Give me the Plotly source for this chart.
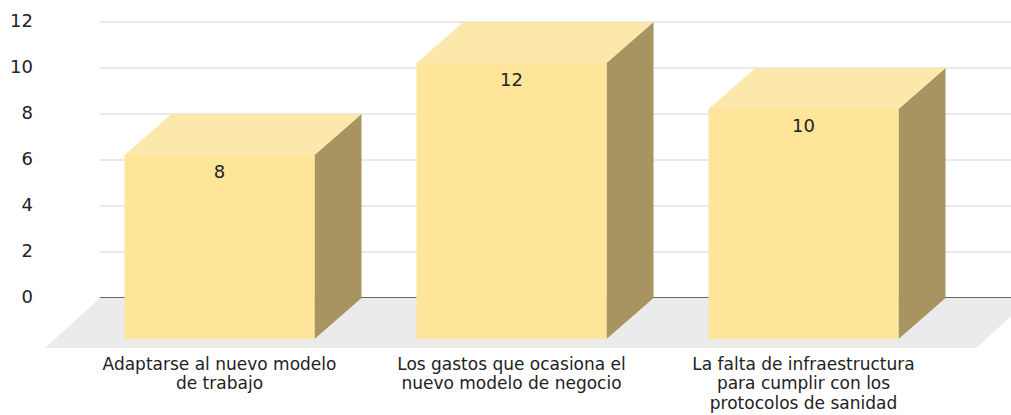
import plotly.graph_objects as go

# ---- data ----
categories = [
    "Adaptarse al nuevo modelo\nde trabajo",
    "Los gastos que ocasiona el\nnuevo modelo de negocio",
    "La falta de infraestructura\npara cumplir con los\nprotocolos de sanidad",
]
values = [8, 12, 10]
y_ticks = [0, 2, 4, 6, 8, 10, 12]

# ---- geometry of the pseudo-3D scene (axis units) ----
W, H = 1011, 415
PX_PER_CAT = 292.0          # horizontal distance between category centres
PX_PER_UNIT = 23.0          # vertical pixels per value unit
X0_PX, Y0_PX = 266.5, 298.0  # pixel position of category 0 / value 0 on the back wall


def xu(px):
    return (px - X0_PX) / PX_PER_CAT


def yu(py):
    return (Y0_PX - py) / PX_PER_UNIT


HALF_W = 95 / PX_PER_CAT     # half bar width
DX = 47 / PX_PER_CAT         # depth shift of the bar front (to the left)
DY = 41 / PX_PER_UNIT        # depth shift of the bar front (downwards)
FLOOR_DX = 55 / PX_PER_CAT
FLOOR_DY = 50 / PX_PER_UNIT
WALL_LEFT = xu(100)
RIGHT = xu(W + 20)

FRONT = "#FFE599"
TOP = "#FDE8AB"
SIDE = "#A79461"
FLOOR = "#EBEBEB"
GRID = "#D4D4D4"
TEXT = "#222222"
FONT = "DejaVu Sans"

fig = go.Figure()


def poly(xs, ys, color):
    fig.add_trace(go.Scatter(
        x=xs + [xs[0]], y=ys + [ys[0]], mode="lines", fill="toself",
        fillcolor=color, line=dict(width=0), hoverinfo="skip", showlegend=False,
    ))


# back-wall gridlines
for t in y_ticks:
    fig.add_trace(go.Scatter(
        x=[WALL_LEFT, RIGHT], y=[t, t], mode="lines",
        line=dict(color="#333333" if t == 0 else GRID, width=1.3 if t == 0 else 1),
        hoverinfo="skip", showlegend=False,
    ))

# floor
poly([WALL_LEFT, RIGHT, RIGHT - FLOOR_DX, WALL_LEFT - FLOOR_DX],
     [0, 0, -FLOOR_DY, -FLOOR_DY], FLOOR)

# bars: side, top, front faces
for i, v in enumerate(values):
    bl, br = i - HALF_W, i + HALF_W          # back face edges
    fl, fr = bl - DX, br - DX                # front face edges
    poly([fr, br, br, fr], [v - DY, v, 0, -DY], SIDE)
    poly([fl, fr, br, bl], [v - DY, v - DY, v, v], TOP)
    poly([fl, fr, fr, fl], [-DY, -DY, v - DY, v - DY], FRONT)

# value labels on the front faces
fig.add_trace(go.Scatter(
    x=[i - DX for i in range(len(values))],
    y=[v - DY - 18 / PX_PER_UNIT for v in values],
    text=[str(v) for v in values], mode="text", textposition="middle center",
    textfont=dict(family=FONT, size=18, color=TEXT),
    hoverinfo="skip", showlegend=False,
))

# y tick labels
fig.add_trace(go.Scatter(
    x=[xu(33)] * len(y_ticks), y=y_ticks, text=[str(t) for t in y_ticks],
    mode="text", textposition="middle left",
    textfont=dict(family=FONT, size=18, color=TEXT),
    hoverinfo="skip", showlegend=False, cliponaxis=False,
))

# category labels, one text entry per line
lx, ly, lt = [], [], []
for i, label in enumerate(categories):
    for k, line in enumerate(label.split("\n")):
        lx.append(i - DX)
        ly.append(yu(365.5 + 19.5 * k))
        lt.append(line)
fig.add_trace(go.Scatter(
    x=lx, y=ly, text=lt, mode="text", textposition="middle center",
    textfont=dict(family=FONT, size=17, color=TEXT),
    hoverinfo="skip", showlegend=False, cliponaxis=False,
))

fig.update_layout(
    width=W, height=H, margin=dict(l=0, r=0, t=0, b=0),
    paper_bgcolor="white", plot_bgcolor="white",
    xaxis=dict(range=[xu(0), xu(W)], visible=False, fixedrange=True),
    yaxis=dict(range=[yu(H), yu(0)], visible=False, fixedrange=True),
)

fig.write_html("out.html")
